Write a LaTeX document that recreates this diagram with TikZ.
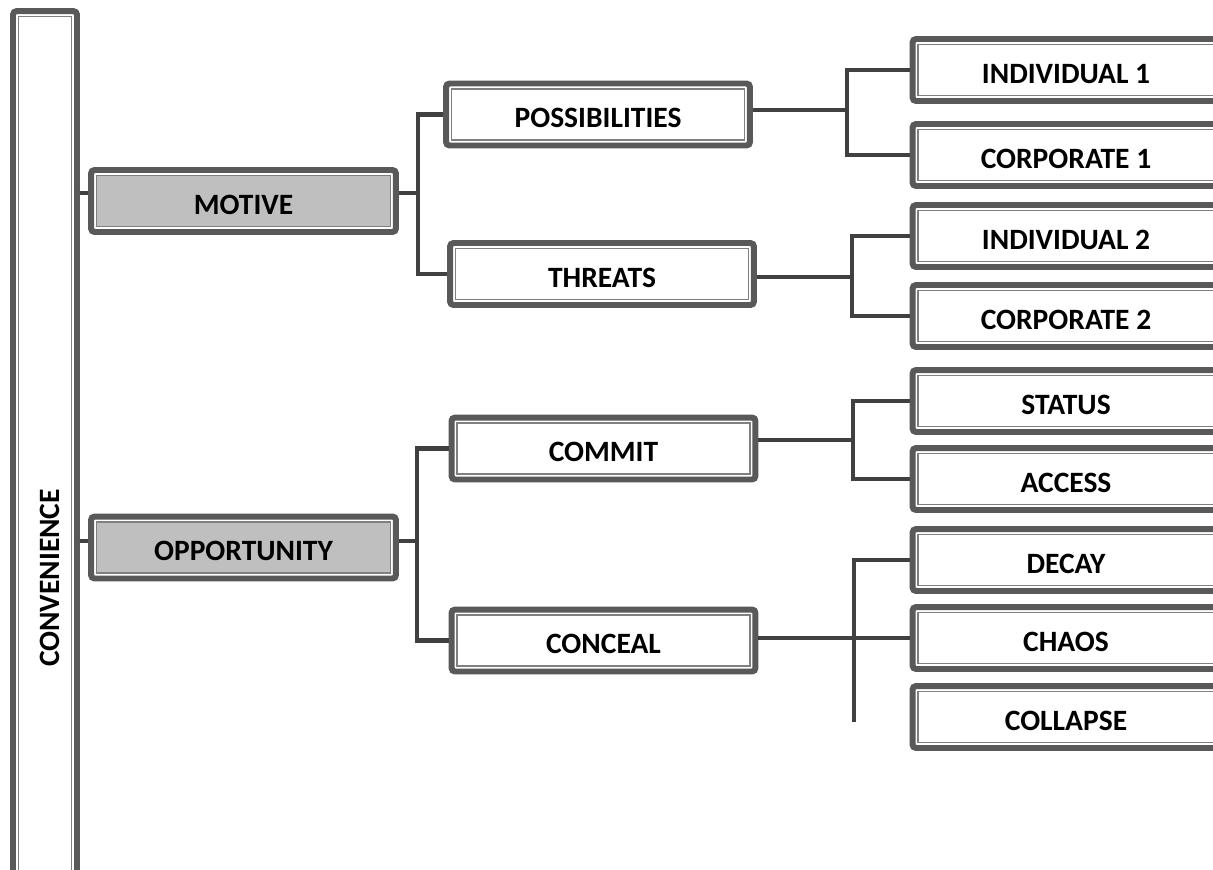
\documentclass[tikz,border=0pt]{standalone}
\usepackage{fontspec}
\setmainfont{Carlito}
\usepackage{tikz}
\usetikzlibrary{positioning}

\definecolor{frameline}{HTML}{595959}
\definecolor{innerline}{HTML}{808080}
\definecolor{linkline}{HTML}{404040}
\definecolor{keyfill}{HTML}{BFBFBF}

\tikzset{
  framed/.style={draw=frameline, line width=3.4pt, rounded corners=2pt, fill=white,
    inner sep=0pt, font=\fontsize{16.8}{18}\selectfont\bfseries,
    text height=15.3pt, text depth=0pt,
    path picture={\draw[innerline, line width=0.9pt, fill=#1, sharp corners]
      ([shift={(3.1pt,3.1pt)}]path picture bounding box.south west) rectangle
      ([shift={(-3.1pt,-3.1pt)}]path picture bounding box.north east);}},
  framed/.default=white,
  leafbox/.style={framed, minimum width=6.08cm, minimum height=1.24cm},
  endbox/.style={leafbox, minimum width=6.14cm},
  keybox/.style={framed=keyfill, minimum width=6.1cm, minimum height=1.24cm},
  link/.style={draw=linkline, line width=2.3pt}
}

\begin{document}
\begin{tikzpicture}[x=0.02cm, y=-0.02cm]
\useasboundingbox (0,0) rectangle (1213,869);
\clip (0,0) rectangle (1213,869);

\node (conv) at (45, 578) [framed, minimum width=1.28cm, minimum height=22.68cm, text height=] {\rotatebox{90}{\rule{0pt}{16.5pt}CONVENIENCE}};

\node (motive) at (243.5, 201) [keybox] {MOTIVE};
\node (opport) at (243.5, 547.5) [keybox] {OPPORTUNITY};

\node (poss) at (598, 114.5) [leafbox] {POSSIBILITIES};
\node (threats) at (602, 274) [leafbox] {THREATS};
\node (commit) at (603.5, 448.5) [leafbox] {COMMIT};
\node (conceal) at (603.5, 640.5) [leafbox] {CONCEAL};

\node (indiv1) at (1066, 70) [endbox] {INDIVIDUAL 1};
\node (corp1) at (1066, 155) [endbox] {CORPORATE 1};
\node (indiv2) at (1066, 236) [endbox] {INDIVIDUAL 2};
\node (corp2) at (1066, 316) [endbox] {CORPORATE 2};
\node (status) at (1066, 401) [endbox] {STATUS};
\node (access) at (1066, 479) [endbox] {ACCESS};
\node (decay) at (1066, 560) [endbox] {DECAY};
\node (chaos) at (1066, 638) [endbox] {CHAOS};
\node (collapse) at (1066, 717) [endbox] {COLLAPSE};

% spine joints
\coordinate (jmot) at (418, 193);
\coordinate (jopp) at (417, 541);
\coordinate (jposs) at (847, 110);
\coordinate (jthr) at (852, 277);
\coordinate (jcom) at (853, 440);
\coordinate (jcon) at (854, 638);

\draw[link] (conv.east |- jmot) to (motive.west |- jmot);
\draw[link] (conv.east |- jopp) to (opport.west |- jopp);

\draw[link] (motive.east |- jmot) to (jmot);
\draw[link] (poss.west) -| (jmot) |- (threats.west);
\draw[link] (opport.east |- jopp) to (jopp);
\draw[link] (commit.west) -| (jopp) |- (conceal.west);

\draw[link] (poss.east |- jposs) to (jposs);
\draw[link] (indiv1.west) -| (jposs) |- (corp1.west);
\draw[link] (threats.east |- jthr) to (jthr);
\draw[link] (indiv2.west) -| (jthr) |- (corp2.west);
\draw[link] (commit.east |- jcom) to (jcom);
\draw[link] (status.west) -| (jcom) |- (access.west);

\draw[link] (conceal.east |- jcon) to (chaos.west |- jcon);
\draw[link] (decay.west) -| ([yshift=-3pt]jcon |- collapse.west);
\end{tikzpicture}
\end{document}
